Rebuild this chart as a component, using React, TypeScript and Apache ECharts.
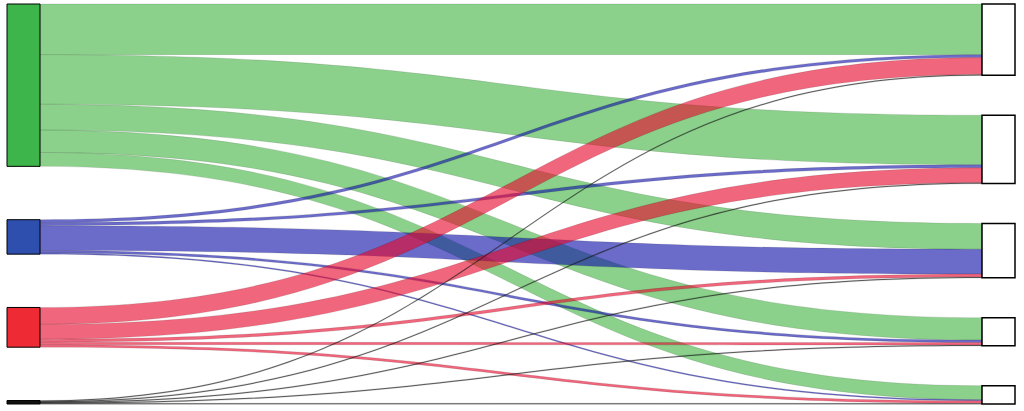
import React, { useEffect, useRef } from "react";
import * as echarts from "echarts";

// ---- data ----
const sourceNodes = ["Green", "Blue", "Red", "Black"];
const targetNodes = ["T1", "T2", "T3", "T4", "T5"];
const flowsGreen = [51, 50, 26, 22.5, 14];
const flowsBlue = [3, 3, 25, 2.5, 1.2];
const flowsRed = [17, 15, 3, 2.5, 2.5];
const flowsBlack = [0.7, 0.7, 0.7, 0.7, 0.7];
const flowRows = [flowsGreen, flowsBlue, flowsRed, flowsBlack];

// ---- styles ----
const nodeFill = ["#3db54a", "#2e4fae", "#ee2a35", "#111111"];
const linkFill = ["#3eb23e", "#1010a8", "#e6082c", "#222222"];
const linkOpacity = [0.6, 0.62, 0.62, 0.7];

const LAYOUT = { left: 7, top: 4, width: 1008, height: 400 };
const NODE_GAP = 40;
const NODE_WIDTH = 33;

export default function App() {
  const ref = useRef<HTMLDivElement>(null);

  useEffect(() => {
    if (!ref.current) return;
    const chart = echarts.init(ref.current, undefined, { renderer: "svg" });

    // column sums (same as the library's node values)
    const srcValues = flowRows.map((r) => r.reduce((a, b) => a + b, 0));
    const tgtValues = targetNodes.map((_, j) =>
      flowRows.reduce((a, r) => a + r[j], 0)
    );
    const H = LAYOUT.height;
    const columns = [srcValues, tgtValues];
    const ky = Math.min(
      ...columns.map(
        (vals) =>
          (H - (vals.length - 1) * NODE_GAP) / vals.reduce((a, b) => a + b, 0)
      )
    );
    // justify each column over full height with equal gaps
    const justify = (vals: number[]) => {
      const total = vals.reduce((a, b) => a + b, 0) * ky;
      const gap = vals.length > 1 ? (H - total) / (vals.length - 1) : 0;
      let cum = 0;
      return vals.map((v, i) => {
        const y = cum * ky + i * gap;
        cum += v;
        return y / H;
      });
    };
    const srcY = justify(srcValues);
    const tgtY = justify(tgtValues);

    const nodes: any[] = [];
    sourceNodes.forEach((name, i) => {
      nodes.push({
        name,
        depth: 0,
        localY: srcY[i],
        itemStyle: {
          color: nodeFill[i],
          borderColor: "#000",
          borderWidth: 1,
          opacity: 1,
        },
      });
    });
    targetNodes.forEach((name, j) => {
      nodes.push({
        name,
        depth: 1,
        localY: tgtY[j],
        itemStyle: {
          color: "#ffffff",
          borderColor: "#000",
          borderWidth: 1.5,
          opacity: 1,
        },
      });
    });

    const links: any[] = [];
    flowRows.forEach((row, i) => {
      row.forEach((v, j) => {
        links.push({
          source: sourceNodes[i],
          target: targetNodes[j],
          value: v,
          lineStyle: {
            color: linkFill[i],
            opacity: linkOpacity[i],
            borderColor: "rgba(0,0,0,0.35)",
            borderWidth: 0.5,
          },
        });
      });
    });

    chart.setOption({
      animation: false,
      series: [
        {
          type: "sankey",
          left: LAYOUT.left,
          top: LAYOUT.top,
          width: LAYOUT.width,
          height: LAYOUT.height,
          nodeWidth: NODE_WIDTH,
          nodeGap: NODE_GAP,
          layoutIterations: 0,
          draggable: false,
          label: { show: false },
          emphasis: { disabled: true },
          lineStyle: { curveness: 0.5 },
          data: nodes,
          links,
        },
      ],
    });

    return () => chart.dispose();
  }, []);

  return (
    <div
      ref={ref}
      style={{ position: "absolute", left: 0, top: 0, width: 1024, height: 411 }}
    />
  );
}
